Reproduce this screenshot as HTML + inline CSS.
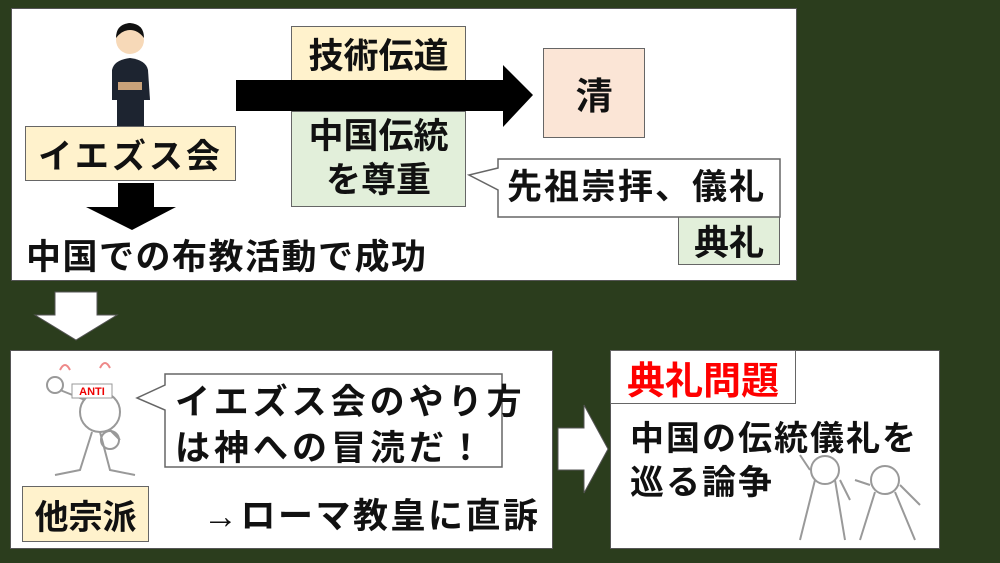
<!DOCTYPE html>
<html><head><meta charset="utf-8"><style>
body{margin:0;width:1000px;height:563px;background:#2b3d1d;position:relative;overflow:hidden;font-family:"Liberation Sans","Noto Sans CJK JP",sans-serif;font-weight:bold;color:#111}
.a{position:absolute;box-sizing:border-box}
.b{border:1.5px solid #666;display:flex;align-items:center;justify-content:center;text-align:center}
.t{position:absolute;white-space:nowrap;line-height:1}
</style></head><body>
<div class="a" style="left:11px;top:8px;width:786px;height:273px;background:#fff;border:1px solid #555"></div>
<div class="a" style="left:10px;top:350px;width:543px;height:199px;background:#fff;border:1px solid #555"></div>
<div class="a" style="left:610px;top:350px;width:330px;height:199px;background:#fff;border:1px solid #555"></div>

<div class="a b" style="left:291px;top:26px;width:175px;height:55px;background:#fff2cc;font-size:35px">技術伝道</div>
<div class="a b" style="left:291px;top:111px;width:175px;height:96px;background:#e2efda;font-size:35px;line-height:1.25">中国伝統<br>を尊重</div>
<div class="a b" style="left:543px;top:48px;width:102px;height:90px;background:#fbe5d6;font-size:37px">清</div>
<div class="a b" style="left:25px;top:126px;width:211px;height:55px;background:#fff2cc;font-size:34px;letter-spacing:3px">イエズス会</div>
<div class="a b" style="left:678px;top:215px;width:102px;height:50px;background:#e2efda;font-size:35px">典礼</div>
<div class="a b" style="left:22px;top:486px;width:127px;height:56px;background:#fff2cc;font-size:34px">他宗派</div>
<div class="a b" style="left:610px;top:350px;width:186px;height:54px;background:#fff;font-size:38px;color:#f00">典礼問題</div>

<svg class="a" style="left:0;top:0" width="1000" height="563">
<polygon points="236,80 503,80 503,65 533,95 503,127 503,111 236,111" fill="#000"/>
<polygon points="118,183 154,183 154,207 176,207 132,230 86,207 118,207" fill="#000"/>
<polygon points="55,292 97,292 97,315 117,315 76,340 35,315 55,315" fill="#fff" stroke="#555"/>
<polygon points="558,428 584,428 584,405 608,449 584,493 584,470 558,470" fill="#fff" stroke="#555"/>
<polygon points="498,159 780,159 780,217 498,217 498,190 469,175 498,168" fill="#fff" stroke="#666" stroke-width="1.5"/>
<polygon points="165,374 502,374 502,467 165,467 165,410 137,398 165,385" fill="#fff" stroke="#666" stroke-width="1.5"/>
<circle cx="130" cy="40" r="14" fill="#f7d9b8"/>
<path d="M116,38 Q116,24 130,23 Q144,24 144,38 Q138,30 130,30 Q122,30 116,38Z" fill="#111"/>
<path d="M112,70 Q114,60 130,58 Q146,60 148,70 L150,100 L112,100Z" fill="#1d2430"/>
<rect x="117" y="100" width="27" height="26" fill="#1d2430"/>
<rect x="118" y="82" width="24" height="8" fill="#c9a27a"/>
<g fill="none" stroke="#999" stroke-width="2">
<circle cx="100" cy="412" r="20"/>
<path d="M92,432 L80,470 L55,475 M100,432 L110,470 L135,475 M85,400 L60,390 M110,430 L120,440"/>
<circle cx="55" cy="385" r="8"/><circle cx="110" cy="440" r="9"/>
<path d="M60,370 q5,-10 10,0 M100,368 q5,-10 10,0" stroke="#e88"/>
</g>
<rect x="72" y="384" width="40" height="14" fill="#fff" stroke="#999"/>
<text x="92" y="395" font-size="11" fill="#e00" text-anchor="middle" font-family="Liberation Sans" font-weight="bold">ANTI</text>
<g fill="none" stroke="#999" stroke-width="2">
<circle cx="825" cy="470" r="14"/><circle cx="885" cy="480" r="14"/>
<path d="M815,480 L800,540 M835,480 L845,540 M810,470 L800,455 M840,480 L850,500"/>
<path d="M875,492 L860,540 M895,492 L915,540 M870,485 L855,480 M900,485 L920,505"/>
</g>
</svg>

<div class="t" style="left:507px;top:170px;font-size:35px;letter-spacing:2px">先祖崇拝、儀礼</div>
<div class="t" style="left:26px;top:240px;font-size:35px;letter-spacing:1.5px">中国での布教活動で成功</div>
<div class="t" style="left:175px;top:380px;font-size:35px;line-height:1.3;letter-spacing:4px">イエズス会のやり方<br>は神への冒涜だ！</div>
<div class="t" style="left:203px;top:499px;font-size:35px;letter-spacing:2.5px">→ローマ教皇に直訴</div>
<div class="t" style="left:630px;top:417px;font-size:34px;line-height:1.3;letter-spacing:2px">中国の伝統儀礼を<br>巡る論争</div>
</body></html>
